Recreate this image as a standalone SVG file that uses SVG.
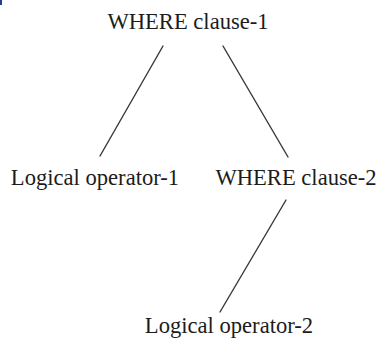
<svg xmlns="http://www.w3.org/2000/svg" width="378" height="338" viewBox="0 0 378 338">
  <style>
    .label { font-family: "Liberation Serif", "Times New Roman", serif; font-size: 22.6px; fill: #1c1c1c; }
    .edge { stroke: #383838; stroke-width: 1.4; fill: none; stroke-linecap: round; }
  </style>
  <rect x="0" y="0" width="378" height="338" fill="#ffffff"/>
  <rect x="0" y="0" width="2" height="5" fill="#1f3f95"/>

  <!-- parse-tree edges -->
  <g id="connectors">
    <line class="edge" x1="163" y1="46" x2="100" y2="156"/>
    <line class="edge" x1="223" y1="46" x2="288" y2="157"/>
    <line class="edge" x1="286" y1="200" x2="220" y2="312"/>
  </g>

  <g id="where-clause-1">
    <text class="label" x="188" y="29" text-anchor="middle">WHERE clause-1</text>
  </g>
  <g id="logical-operator-1">
    <text class="label" x="95" y="185" text-anchor="middle">Logical operator-1</text>
  </g>
  <g id="where-clause-2">
    <text class="label" x="296" y="185" text-anchor="middle">WHERE clause-2</text>
  </g>
  <g id="logical-operator-2">
    <text class="label" x="229" y="333" text-anchor="middle">Logical operator-2</text>
  </g>
</svg>
